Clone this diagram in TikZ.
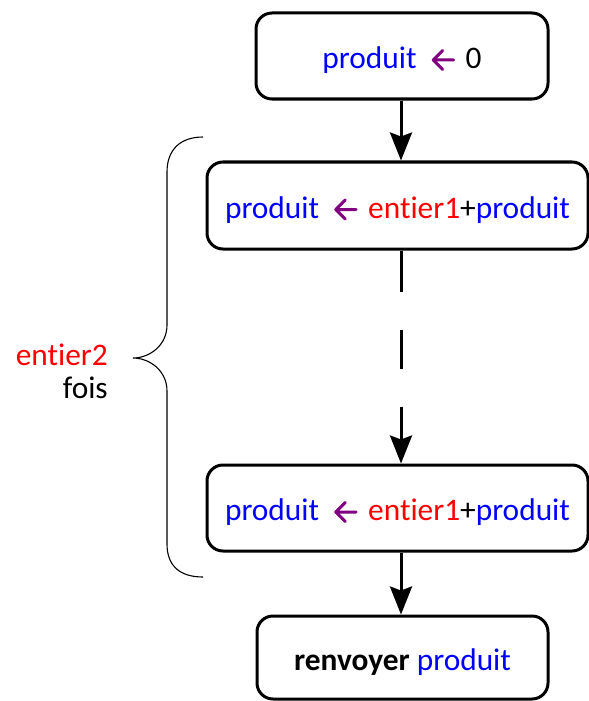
\documentclass[tikz,border=0pt]{standalone}
\usepackage{fontspec}
\setmainfont{Carlito}[Ligatures=CommonOff]
\usetikzlibrary{arrows.meta}
\definecolor{vblue}{RGB}{0,0,255}
\definecolor{vred}{RGB}{255,0,0}
\definecolor{vpurple}{RGB}{128,0,128}
\newcommand{\prd}{\textcolor{vblue}{produit}}
\newcommand{\lar}{\hspace{15bp}\tikz[baseline=0pt,x=1bp,y=1bp,sharp corners]{%
  \useasboundingbox (0,0) rectangle (23,17);
  \draw[vpurple, line width=3bp, line cap=round, line join=round]
    (22,8.5) -- (1.5,8.5) (11,18) -- (1.5,8.5) -- (11,-1);}\hspace{11bp}}
\newcommand{\ent}[1]{\textcolor{vred}{entier#1}}
\tikzset{
  stepbox/.style={draw, line width=3bp, rounded corners=16bp, inner sep=0pt,
    text height=32bp, text depth=7bp,
    font=\fontsize{31.5}{36}\selectfont},
  flow/.style={line width=3bp, -{Stealth[length=28bp,width=22bp,inset=4bp]}},
  bracestyle/.style={line width=1.1bp},
}
\begin{document}
\begin{tikzpicture}[x=1bp,y=-1bp]
\useasboundingbox (0,0) rectangle (589,701);
\node[stepbox, minimum width=292bp, minimum height=86bp] (b1) at (402,56) {\prd\lar 0};
\node[stepbox, minimum width=381bp, minimum height=87bp] (b2) at (397.5,205.5) {\prd\lar\ent{1}+\prd};
\node[stepbox, minimum width=381bp, minimum height=86bp] (b3) at (397.5,508) {\prd\lar\ent{1}+\prd};
\node[stepbox, minimum width=291bp, minimum height=83bp] (b4) at (402.5,657.5) {\textbf{renvoyer} \prd};
\draw[flow] (b1.south -| 401,0) -- (b2.north -| 401,0);
\draw[flow, dash pattern=on 41bp off 38bp on 39bp off 38bp on 200bp] (b2.south -| 401,0) -- (b3.north -| 401,0);
\draw[flow] (b3.south -| 401,0) -- (b4.north -| 401,0);
\coordinate (bt) at (203,137);
\coordinate (bm) at (133,358);
\coordinate (bb) at (203,577);
\draw[bracestyle] (bt) .. controls (180,137) and (167,150) .. (167,172)
  -- (167,325) .. controls (167,345) and (150,358) .. (bm)
  .. controls (150,358) and (167,371) .. (167,391)
  -- (167,544) .. controls (167,566) and (180,577) .. (bb);
\node[font=\fontsize{31.5}{33}\selectfont, align=right, anchor=east, inner sep=0pt] (lbl) at (108,371) {\ent{2}\\fois};
\end{tikzpicture}
\end{document}
